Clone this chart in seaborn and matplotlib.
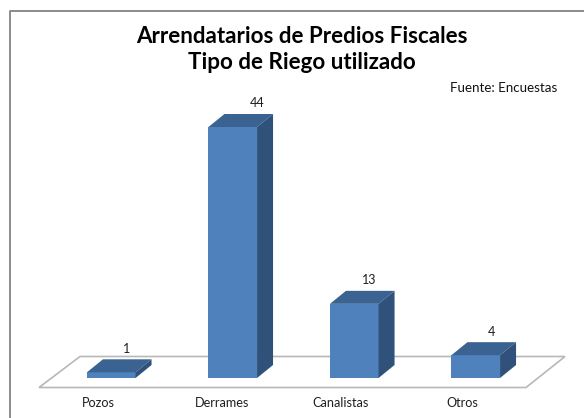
import matplotlib
matplotlib.use("Agg")
import matplotlib.pyplot as plt
from matplotlib.lines import Line2D
from matplotlib.patches import Polygon
import seaborn as sns
import pandas as pd

categories = ["Pozos", "Derrames", "Canalistas", "Otros"]
values = [1, 44, 13, 4]
title_lines = "Arrendatarios de Predios Fiscales\nTipo de Riego utilizado"
source_note = "Fuente: Encuestas"

W, H = 584, 418
sns.set_theme(style="white")
plt.rcParams["font.family"] = ["Lato", "DejaVu Sans"]

fig = plt.figure(figsize=(W / 100, H / 100), dpi=100)
left, right, bottom_px, top_px = 50.5, 536.5, 378, 98
ax = fig.add_axes([left / W, 1 - bottom_px / H, (right - left) / W, (bottom_px - top_px) / H])
df = pd.DataFrame({"cat": categories, "val": values})
sns.barplot(data=df, x="cat", y="val", color="#4f81bd", saturation=1, width=0.4, ax=ax, zorder=3,
            edgecolor="none", linewidth=0)
ax.set_xlim(-0.5, 3.5)
ax.set_ylim(0, 280 / (251 / 44))
ax.set_xlabel("")
ax.set_ylabel("")
ax.set_yticks([])
ax.set_xticks([])
ax.patch.set_alpha(0)
sns.despine(ax=ax, left=True, bottom=True)
ax.set_zorder(5)

# chart frame: only the left and top edges are visible
fig.add_artist(Line2D([9.5 / W, 9.5 / W, 1], [0, 1 - 10.5 / H, 1 - 10.5 / H], transform=fig.transFigure,
                      color="#8c8c8c", lw=1.4, zorder=0))
# floor
fig.add_artist(Polygon([(39 / W, 1 - 387.5 / H), (526 / W, 1 - 387.5 / H), (565 / W, 1 - 356.5 / H), (80 / W, 1 - 356.5 / H)],
                       closed=True, transform=fig.transFigure, fc="white", ec="#b8b8b8", lw=1.2, zorder=-1))

dx, dy = 16, 13
ddx = dx / ax.bbox.width * (ax.get_xlim()[1] - ax.get_xlim()[0])
ddy = dy / ax.bbox.height * (ax.get_ylim()[1] - ax.get_ylim()[0])
value_nudge = [15, 24, 15, 16]
label_nudge = [-13, -11, -14, -13]
for bar, vn in zip(list(ax.patches), value_nudge):
    bx, bw, bh = bar.get_x(), bar.get_width(), bar.get_height()
    ax.add_patch(Polygon([(bx, bh), (bx + bw, bh), (bx + bw + ddx, bh + ddy), (bx + ddx, bh + ddy)],
                         closed=True, fc="#3b6391", ec="none", zorder=3, clip_on=False))
    ax.add_patch(Polygon([(bx + bw, 0), (bx + bw, bh), (bx + bw + ddx, bh + ddy), (bx + bw + ddx, ddy)],
                         closed=True, fc="#30527a", ec="none", zorder=3, clip_on=False))
    ax.annotate(f"{int(bh)}", (bx + bw / 2, bh), xytext=(vn * 0.72, (dy + 10.5) * 0.72), textcoords="offset points",
                ha="center", va="center", fontsize=9, color="#1f1f1f", annotation_clip=False)

for i, (c, ln) in enumerate(zip(categories, label_nudge)):
    ax.annotate(c, (i, 0), xytext=(ln * 0.72, -25 * 0.72), textcoords="offset points", ha="center", va="center",
                fontsize=9.1, color="#1f1f1f", annotation_clip=False)

fig.text(302 / W, 1 - 49.5 / H, title_lines, ha="center", va="center", fontsize=16.1, fontweight="bold",
         color="black", linespacing=1.33)
fig.text(503.5 / W, 1 - 88 / H, source_note, ha="center", va="center", fontsize=9.6, color="#111111")

fig.savefig("out.png", dpi=100)
